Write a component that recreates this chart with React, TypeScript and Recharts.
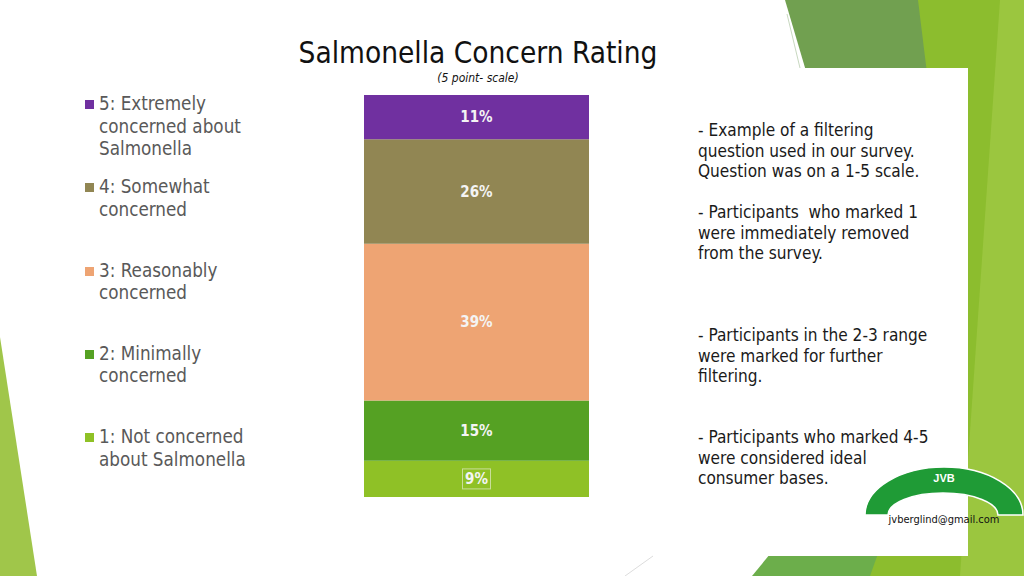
import { BarChart, Bar, XAxis, YAxis, LabelList } from "recharts";

const CATEGORIES = ["Salmonella concern"];
const SERIES_KEYS = ["r1", "r2", "r3", "r4", "r5"];
const SERIES_NAMES = [
  "1: Not concerned about Salmonella",
  "2: Minimally concerned",
  "3: Reasonably concerned",
  "4: Somewhat concerned",
  "5: Extremely concerned about Salmonella",
];
const SERIES_VALUES = [9, 15, 39, 26, 11];
const SERIES_COLORS = ["#8fc126", "#55a123", "#eea473", "#918653", "#7030a0"];
const LEGEND_LINES = [
  ["1: Not concerned", "about Salmonella"],
  ["2: Minimally", "concerned"],
  ["3: Reasonably", "concerned"],
  ["4: Somewhat", "concerned"],
  ["5: Extremely", "concerned about", "Salmonella"],
];
const NOTES = [
  ["- Example of a filtering", "question used in our survey.", "Question was on a 1-5 scale."],
  ["- Participants  who marked 1", "were immediately removed", "from the survey."],
  ["- Participants in the 2-3 range", "were marked for further", "filtering."],
  ["- Participants who marked 4-5", "were considered ideal", "consumer bases."],
];
const NOTE_TOPS = [120, 202, 325, 427];

const FONT = "'DejaVu Sans Condensed', 'DejaVu Sans', sans-serif";

const row: Record<string, string | number> = { name: CATEGORIES[0] };
SERIES_KEYS.forEach((k, i) => (row[k] = SERIES_VALUES[i]));
const data = [row];

function BoxedLabel(props: any) {
  const { x, y, width, height, value } = props;
  const cx = x + width / 2;
  const cy = y + height / 2;
  return (
    <g>
      <rect x={cx - 14} y={cy - 10} width={28} height={20} fill="none" stroke="#c9de9a" strokeWidth={1} />
      <text x={cx} y={cy} dy={5} textAnchor="middle" fill="#f4f4f4" fontSize={15} fontWeight="bold" fontFamily={FONT}>
        {`${value}%`}
      </text>
    </g>
  );
}

export default function App() {
  return (
    <div
      style={{
        position: "absolute",
        left: 0,
        top: 0,
        width: 1024,
        height: 576,
        overflow: "hidden",
        background: "#ffffff",
        fontFamily: FONT,
      }}
    >
      <svg width={1024} height={576} style={{ position: "absolute", left: 0, top: 0 }}>
        <polygon points="918,0 1024,0 1024,576 860,576" fill="#8cbd2e" />
        <polygon points="1000,0 1024,0 1024,576 960,576" fill="#9bc63f" />
        <polygon points="785,0 918,0 945,220 850,220" fill="#71a050" />
        <line x1="787" y1="14" x2="800" y2="68" stroke="#c8d8c0" strokeWidth={1} />
        <polygon points="752,576 775,548 880,548 870,576" fill="#6cae4b" />
        <rect x={690} y={68} width={278} height={488} fill="#ffffff" />
        <polygon points="0,337 37,576 0,576" fill="#a0c64a" />
        <line x1="625" y1="576" x2="653" y2="556" stroke="#dddddd" strokeWidth={1} />
        <path
          d="M 865 515 A 79 48 0 0 1 1023 515 L 998 515 A 55 22 0 0 0 888 515 Z"
          fill="#1f9b36"
          stroke="#ffffff"
          strokeWidth={1.5}
        />
        <text x={944} y={482} textAnchor="middle" fill="#ffffff" fontSize={11} fontWeight="bold" fontFamily="Liberation Sans, Arial, sans-serif">
          JVB
        </text>
        <text x={944} y={523} textAnchor="middle" fill="#111111" fontSize={11} fontFamily={FONT}>
          jvberglind@gmail.com
        </text>
      </svg>

      <div style={{ position: "absolute", left: 0, top: 0 }}>
        <BarChart
          width={1024}
          height={576}
          data={data}
          margin={{ top: 95, right: 435, bottom: 79, left: 364 }}
          barCategoryGap={0}
        >
          <XAxis dataKey="name" hide />
          <YAxis hide domain={[0, 100]} />
          {SERIES_KEYS.map((k, i) => (
            <Bar key={k} dataKey={k} name={SERIES_NAMES[i]} stackId="a" fill={SERIES_COLORS[i]} isAnimationActive={false}>
              {i === 0 ? (
                <LabelList dataKey={k} content={BoxedLabel} />
              ) : (
                <LabelList
                  dataKey={k}
                  position="center"
                  formatter={(v: any) => `${v}%`}
                  fill="#f4f4f4"
                  fontSize={15}
                  fontWeight="bold"
                  fontFamily={FONT}
                />
              )}
            </Bar>
          ))}
        </BarChart>
      </div>

      <div
        style={{
          position: "absolute",
          left: 0,
          width: 956,
          top: 35,
          textAlign: "center",
          fontSize: 29.5,
          lineHeight: "36px",
          color: "#111111",
        }}
      >
        Salmonella Concern Rating
      </div>
      <div
        style={{
          position: "absolute",
          left: 0,
          width: 956,
          top: 71,
          textAlign: "center",
          fontSize: 12,
          lineHeight: "14px",
          fontStyle: "italic",
          color: "#111111",
        }}
      >
        (5 point- scale)
      </div>

      {LEGEND_LINES.slice()
        .reverse()
        .map((lines, j) => {
          const i = SERIES_KEYS.length - 1 - j;
          return (
            <div key={i} style={{ position: "absolute", left: 85, top: 93 + j * 83.3 }}>
              <div
                style={{
                  position: "absolute",
                  left: 0,
                  top: 7,
                  width: 9,
                  height: 9,
                  background: SERIES_COLORS[i],
                }}
              />
              <div style={{ position: "absolute", left: 14, top: 0, whiteSpace: "nowrap", fontSize: 18.7, lineHeight: "22.5px", color: "#595959" }}>
                {lines.map((l) => (
                  <div key={l}>{l}</div>
                ))}
              </div>
            </div>
          );
        })}

      {NOTES.map((lines, i) => (
        <div
          key={i}
          style={{
            position: "absolute",
            left: 698,
            top: NOTE_TOPS[i],
            whiteSpace: "pre",
            fontSize: 17.1,
            lineHeight: "20.5px",
            color: "#1a1a1a",
          }}
        >
          {lines.map((l) => (
            <div key={l}>{l}</div>
          ))}
        </div>
      ))}
    </div>
  );
}
